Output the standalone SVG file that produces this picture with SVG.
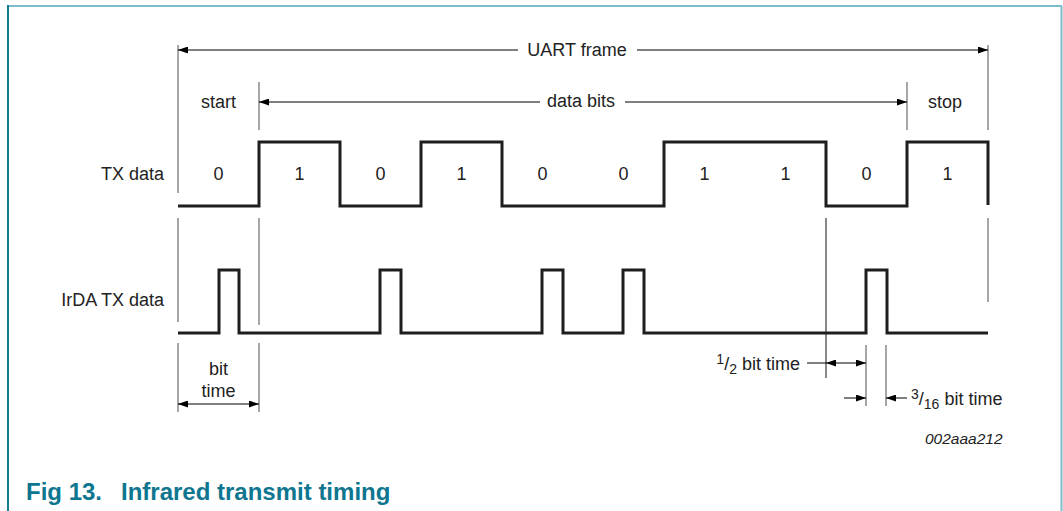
<svg xmlns="http://www.w3.org/2000/svg" width="1063" height="511" viewBox="0 0 1063 511">
<defs>
<marker id="ah" viewBox="0 0 10 7" refX="10" refY="3.5" markerWidth="10" markerHeight="7" markerUnits="userSpaceOnUse" orient="auto-start-reverse">
<path d="M0,0 L10,3.5 L0,7 z" fill="#000"/>
</marker>
<style>
.t{font-family:"Liberation Sans",Arial,sans-serif;font-size:18px;fill:#222}
.c{text-anchor:middle}
.e{text-anchor:end}
.ref{stroke:#8a8a8a;stroke-width:1.5;fill:none}
.arr{stroke:#000;stroke-width:1;fill:none}
.wave{stroke:#1e1e1e;stroke-width:3;fill:none;stroke-linejoin:miter}
.cap{font-family:"Liberation Sans",Arial,sans-serif;font-size:24px;font-weight:bold;fill:#0f7690}
</style>
</defs>
<rect x="0" y="0" width="1063" height="511" fill="#fff"/>
<g id="border">
<line x1="8" y1="6" x2="1062" y2="6" stroke="#7dbccb" stroke-width="2"/>
<line x1="8" y1="5" x2="8" y2="511" stroke="#147c94" stroke-width="2"/>
<line x1="1061.5" y1="6" x2="1061.5" y2="511" stroke="#7dbccb" stroke-width="2"/>
</g>
<g id="reference-lines">
<line class="ref" x1="178" y1="45" x2="178" y2="193"/>
<line class="ref" x1="178" y1="218" x2="178" y2="322"/>
<line class="ref" x1="178" y1="343" x2="178" y2="412"/>
<line class="ref" x1="259" y1="82" x2="259" y2="130"/>
<line class="ref" x1="259" y1="218" x2="259" y2="325"/>
<line class="ref" x1="259" y1="343" x2="259" y2="412"/>
<line class="ref" x1="907" y1="82" x2="907" y2="130"/>
<line class="ref" x1="988" y1="45" x2="988" y2="130"/>
<line class="ref" x1="988" y1="218" x2="988" y2="302"/>
<line x1="826" y1="218" x2="826" y2="378" stroke="#111" stroke-width="1"/>
<line class="ref" x1="866" y1="345" x2="866" y2="406"/>
<line class="ref" x1="886" y1="345" x2="886" y2="406"/>
</g>
<g id="waveforms">
<path id="tx" class="wave" d="M178,206 H259 V142 H340 V206 H421 V142 H502 V206 H664 V142 H826 V206 H907 V142 H988 V205"/>
<path id="irda" class="wave" d="M178,333 H219 V270 H239 V333 H380 V270 H401 V333 H542 V270 H563 V333 H623 V270 H644 V333 H866 V270 H887 V333 H988"/>
</g>
<g id="connectors">
<line class="arr" x1="518" y1="50" x2="178" y2="50" marker-end="url(#ah)"/>
<line class="arr" x1="637" y1="50" x2="988" y2="50" marker-end="url(#ah)"/>
<line class="arr" x1="540" y1="102" x2="259" y2="102" marker-end="url(#ah)"/>
<line class="arr" x1="625" y1="102" x2="907" y2="102" marker-end="url(#ah)"/>
<line class="arr" x1="178" y1="404" x2="259" y2="404" marker-start="url(#ah)" marker-end="url(#ah)"/>
<line class="arr" x1="807" y1="363" x2="826" y2="363"/>
<line class="arr" x1="826" y1="363" x2="866" y2="363" marker-start="url(#ah)" marker-end="url(#ah)"/>
<line class="arr" x1="844" y1="398" x2="866" y2="398" marker-end="url(#ah)"/>
<line class="arr" x1="907" y1="398" x2="886" y2="398" marker-end="url(#ah)"/>
</g>
<g id="labels">
<text class="t c" x="577" y="56">UART frame</text>
<text class="t c" x="581" y="107">data bits</text>
<text class="t c" x="218.5" y="108">start</text>
<text class="t c" x="945" y="108">stop</text>
<text class="t e" x="164" y="180">TX data</text>
<text class="t e" x="164" y="306">IrDA TX data</text>
<text class="t c" x="218.5" y="180">0</text>
<text class="t c" x="299.5" y="180">1</text>
<text class="t c" x="380.5" y="180">0</text>
<text class="t c" x="461.5" y="180">1</text>
<text class="t c" x="542.5" y="180">0</text>
<text class="t c" x="623.5" y="180">0</text>
<text class="t c" x="704.5" y="180">1</text>
<text class="t c" x="785.5" y="180">1</text>
<text class="t c" x="866.5" y="180">0</text>
<text class="t c" x="947.5" y="180">1</text>
<text class="t c" x="218.5" y="375">bit</text>
<text class="t c" x="218.5" y="397">time</text>
<text class="t e" x="800" y="370"><tspan font-size="14" dy="-6">1</tspan><tspan dy="6">/</tspan><tspan font-size="14" dy="4">2</tspan><tspan dy="-4"> bit time</tspan></text>
<text class="t" x="911" y="405"><tspan font-size="14" dy="-6">3</tspan><tspan dy="6">/</tspan><tspan font-size="14" dy="4">16</tspan><tspan dy="-4"> bit time</tspan></text>
<text x="925" y="444" style="font-family:'Liberation Sans',Arial,sans-serif;font-size:15.5px;font-style:italic;fill:#222">002aaa212</text>
</g>
<g id="caption">
<text class="cap" x="26" y="500">Fig 13.</text>
<text class="cap" x="121" y="500">Infrared transmit timing</text>
</g>
</svg>
